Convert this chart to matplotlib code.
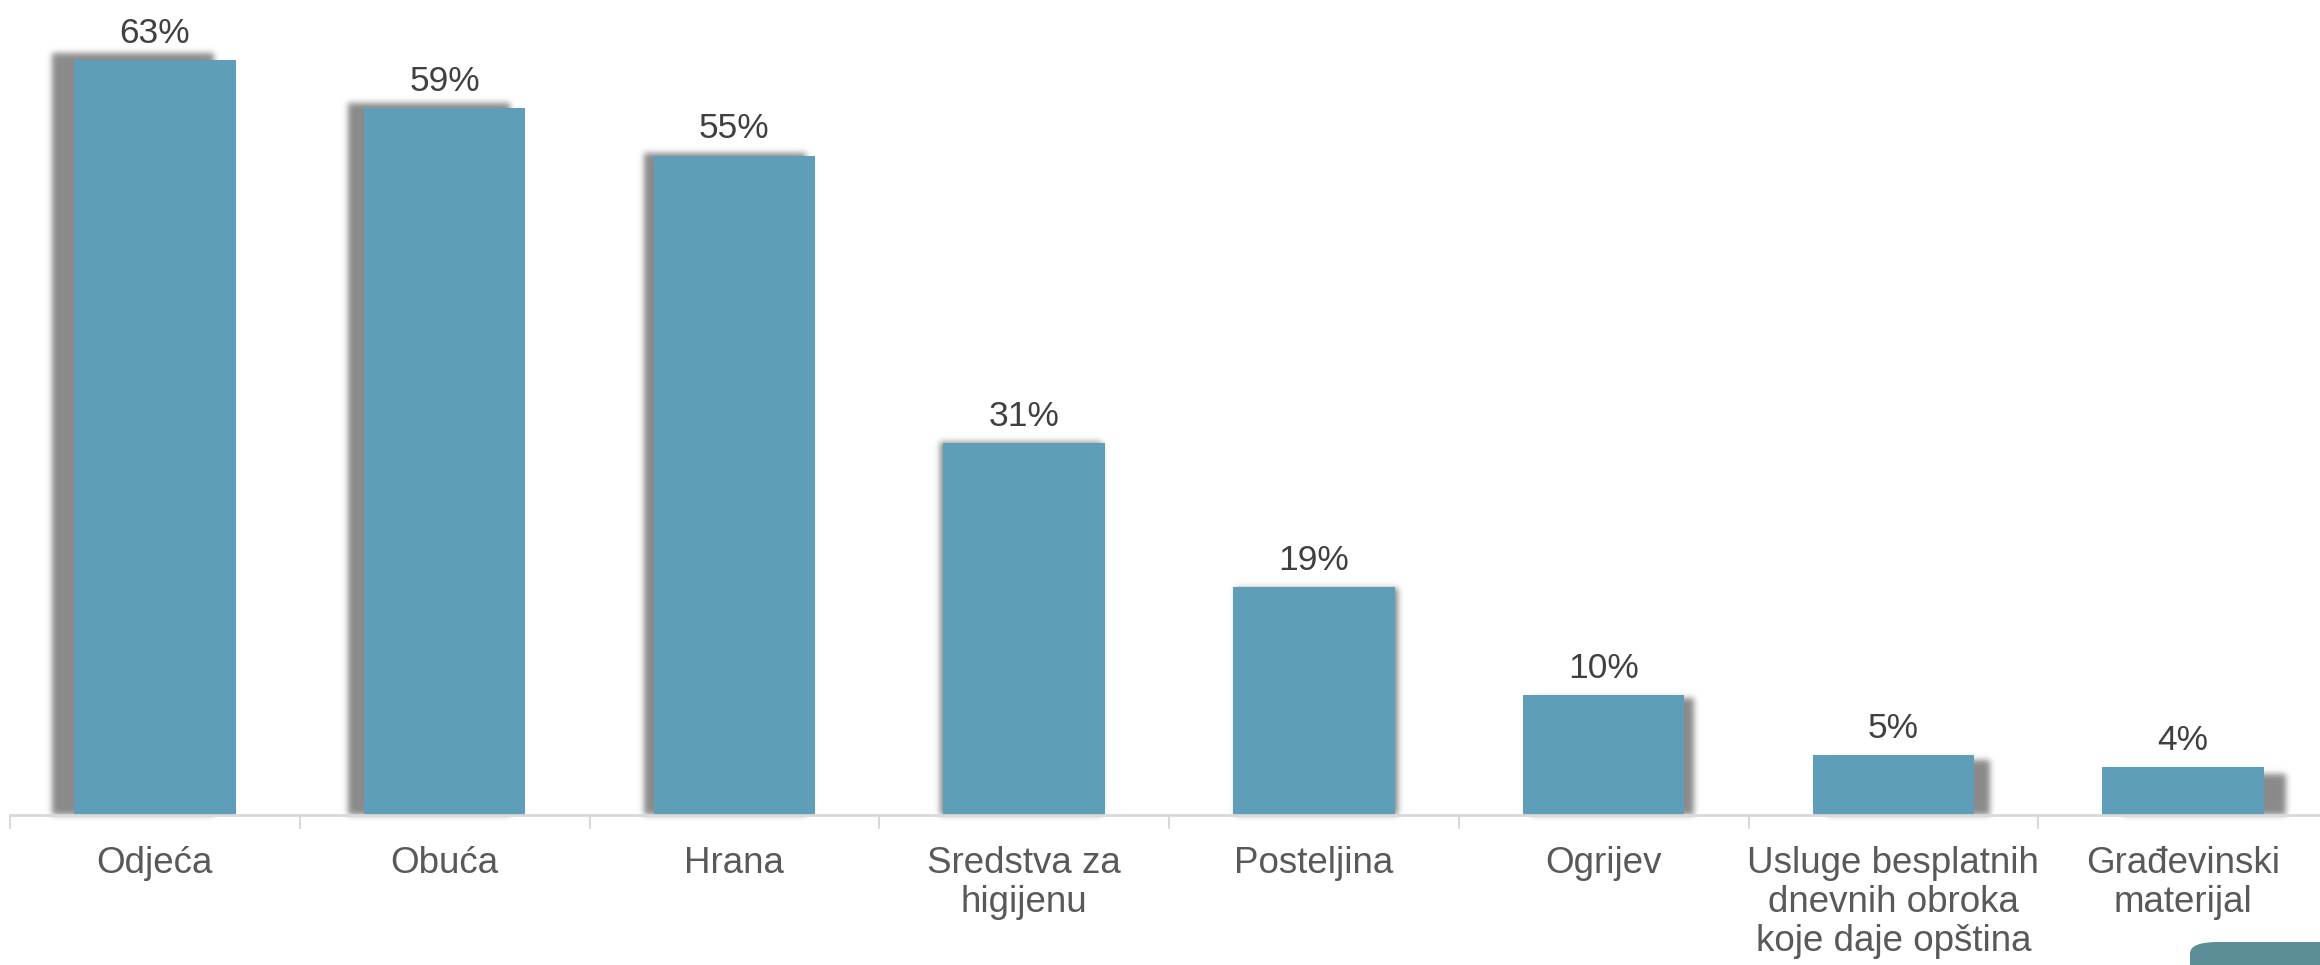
import numpy as np
import matplotlib
matplotlib.use('Agg')
import matplotlib.pyplot as plt
from matplotlib.patches import FancyBboxPatch

categories = ['Odjeća', 'Obuća', 'Hrana', 'Sredstva za\nhigijenu', 'Posteljina',
              'Ogrijev', 'Usluge besplatnih\ndnevnih obroka\nkoje daje opština',
              'Građevinski\nmaterijal']
values = [63, 59, 55, 31, 19, 10, 5, 4]

bar_color = '#5F9EB8'
shadow_rgb = (0.52, 0.52, 0.52)


def blur_filter(img, dpi, sigma=3.0):
    # soft gaussian blur of the shadow patch
    pad = int(sigma * 4)
    h, w, _ = img.shape
    out = np.zeros((h + 2 * pad, w + 2 * pad, 4))
    out[pad:pad + h, pad:pad + w] = img
    k = np.exp(-0.5 * (np.arange(-pad, pad + 1) / sigma) ** 2)
    k /= k.sum()
    a = out[:, :, 3]
    a = np.apply_along_axis(lambda r: np.convolve(r, k, mode='same'), 0, a)
    a = np.apply_along_axis(lambda r: np.convolve(r, k, mode='same'), 1, a)
    out[:, :, 0] = shadow_rgb[0]
    out[:, :, 1] = shadow_rgb[1]
    out[:, :, 2] = shadow_rgb[2]
    out[:, :, 3] = a * 0.95
    return out, -pad, -pad


fig = plt.figure(figsize=(23.2, 9.65), dpi=100)
ax = fig.add_axes([10 / 2320, 150 / 965, 2318 / 2320, 815 / 965])

x = np.arange(len(values))
width = 0.557

# perspective-like shadow: shifts away from the chart centre
mid = (len(values) - 1) / 2
dx = 0.0217 * (x - mid)
dy = -0.167 * (x - mid)
shadows = ax.bar(x + dx, np.array(values) + dy + 0.35, width=width, bottom=-0.35,
                 color=shadow_rgb, zorder=1)
for p in shadows:
    p.set_agg_filter(blur_filter)

ax.bar(x, values, width=width, color=bar_color, zorder=2)

for i, v in enumerate(values):
    ax.annotate(f'{v}%', (i, v), xytext=(0, 12.5), textcoords='offset points',
                ha='center', va='baseline', fontsize=25.5, color='#404040',
                family=['Liberation Sans', 'DejaVu Sans'])

ax.set_xlim(-0.5, len(values) - 0.5)
ax.set_ylim(0, 68)

ax.set_xticks(x)
ax.set_xticklabels(categories, fontsize=26.5, color='#595959', linespacing=1.15,
                   family=['Liberation Sans', 'DejaVu Sans'])
ax.set_xticks(np.arange(len(values) + 1) - 0.5, minor=True)
ax.tick_params(axis='x', which='major', length=0, pad=22)
ax.tick_params(axis='x', which='minor', length=10, width=1.5, color='#d9d9d9')
ax.set_yticks([])

for s in ['top', 'right', 'left']:
    ax.spines[s].set_visible(False)
ax.spines['bottom'].set_color('#d9d9d9')
ax.spines['bottom'].set_linewidth(2)
ax.spines['bottom'].set_zorder(3)

# corner shape bottom right
corner = FancyBboxPatch((2190 / 2320, -35 / 965), 200 / 2320, 58 / 965,
                        boxstyle='round,pad=0,rounding_size=0.012',
                        transform=fig.transFigure, facecolor='#5B8E97',
                        edgecolor='none', clip_on=False)
fig.add_artist(corner)

fig.savefig('out.png', dpi=100)
